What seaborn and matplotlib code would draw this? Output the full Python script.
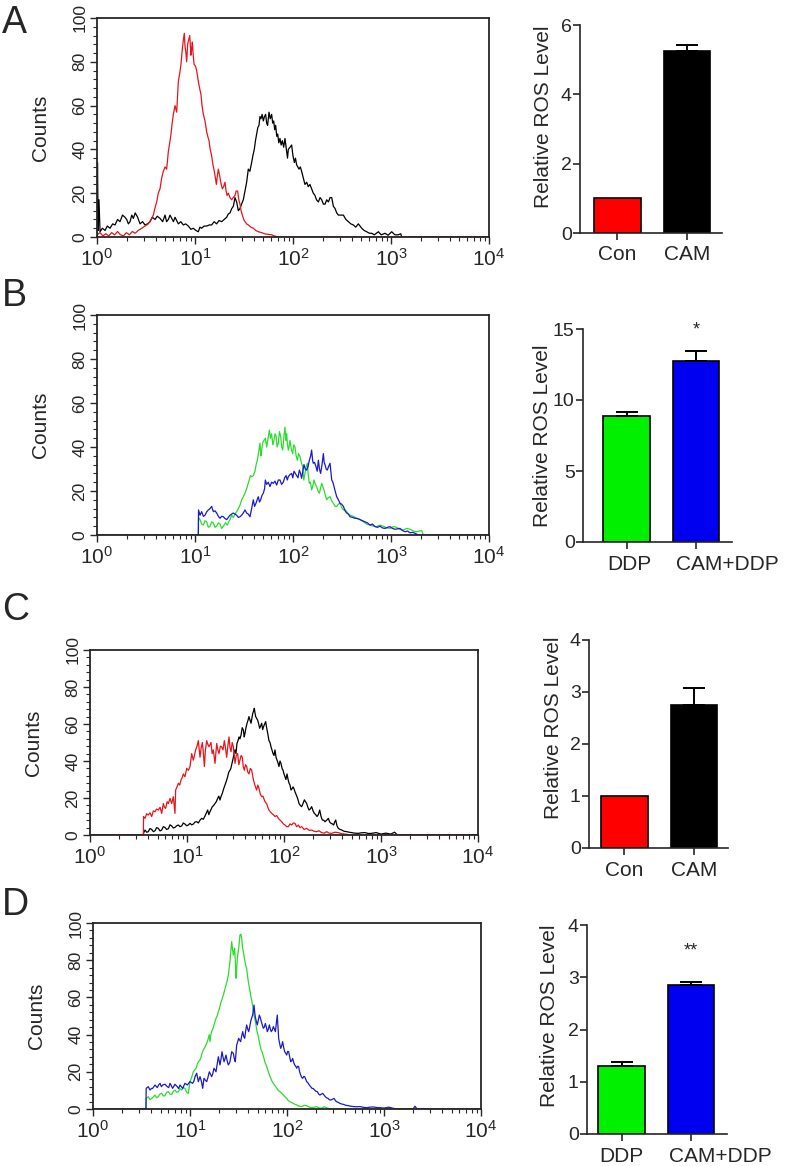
import numpy as np
import seaborn as sns
import matplotlib.pyplot as plt
import matplotlib.transforms as mtransforms
from matplotlib.ticker import MultipleLocator, LogLocator, NullFormatter

sns.set_style("ticks")
plt.rcParams["font.family"] = ["Liberation Sans", "DejaVu Sans"]
plt.rcParams["mathtext.default"] = "regular"

# ---- flow cytometry histograms: (log10 intensity, counts) ----
a_con = [(0.0, 1), (0.03, 2), (0.06, 0.5), (0.09, 1.5), (0.12, 0.5), (0.15, 2), (0.18, 1), (0.21, 2.5),
         (0.24, 1), (0.27, 0.5), (0.30, 2), (0.33, 1), (0.36, 2.5), (0.39, 1.7), (0.42, 3), (0.456, 4),
         (0.49, 5), (0.524, 6), (0.55, 8), (0.575, 10), (0.59, 13), (0.609, 16), (0.625, 20), (0.643, 22),
         (0.66, 27), (0.677, 30), (0.694, 32), (0.711, 31), (0.728, 39), (0.742, 43), (0.755, 47), (0.767, 52),
         (0.779, 56), (0.796, 60), (0.813, 57), (0.83, 71), (0.845, 75), (0.857, 79), (0.871, 86), (0.881, 90),
         (0.891, 93), (0.898, 87), (0.905, 85), (0.915, 80), (0.925, 88), (0.935, 90), (0.946, 92), (0.959, 83),
         (0.966, 86), (0.973, 89), (0.98, 84), (0.99, 79), (1.005, 78), (1.017, 76), (1.034, 71), (1.047, 68),
         (1.061, 65), (1.072, 60), (1.085, 56), (1.102, 53), (1.119, 48), (1.13, 46), (1.143, 44), (1.155, 40),
         (1.17, 37), (1.183, 33), (1.197, 30), (1.208, 27), (1.218, 24), (1.228, 28), (1.238, 31), (1.247, 29),
         (1.255, 27), (1.267, 24), (1.279, 22), (1.292, 23), (1.306, 25), (1.317, 21), (1.327, 19), (1.34, 20),
         (1.357, 18), (1.374, 17), (1.39, 18), (1.408, 19), (1.42, 21), (1.435, 21), (1.447, 17), (1.459, 15),
         (1.47, 12), (1.483, 10), (1.497, 8), (1.51, 7), (1.527, 6), (1.544, 5.5), (1.57, 4.5), (1.595, 4),
         (1.62, 3), (1.646, 2.4), (1.68, 2), (1.714, 1.4), (1.75, 1.2), (1.782, 1), (1.81, 0.5), (1.833, 0.2),
         (1.86, 0), (4.0, 0)]

a_cam = [(0.0, 0), (0.005, 34), (0.012, 3), (0.02, 17), (0.031, 2.4), (0.055, 4), (0.082, 3), (0.105, 5),
         (0.133, 4), (0.16, 6), (0.184, 5.5), (0.21, 8), (0.235, 7), (0.26, 10), (0.286, 9), (0.303, 8),
         (0.32, 6), (0.337, 7), (0.355, 10), (0.371, 8.5), (0.39, 11), (0.415, 9), (0.439, 6), (0.465, 7),
         (0.49, 5.5), (0.515, 6), (0.541, 7), (0.565, 9), (0.592, 8), (0.615, 9.5), (0.643, 8.5), (0.67, 7),
         (0.694, 10), (0.71, 7), (0.728, 8), (0.745, 10), (0.762, 8.5), (0.78, 7), (0.796, 9), (0.813, 7.5),
         (0.83, 6), (0.855, 7), (0.881, 5.5), (0.905, 6), (0.932, 5), (0.958, 3.5), (0.983, 4), (1.008, 3),
         (1.034, 2.4), (1.05, 4.5), (1.068, 4), (1.093, 5), (1.119, 5), (1.145, 5.5), (1.17, 5.5), (1.195, 7),
         (1.221, 6), (1.245, 7.5), (1.272, 7), (1.297, 8), (1.323, 9), (1.34, 10.5), (1.357, 11), (1.375, 13),
         (1.391, 14), (1.408, 18), (1.425, 16), (1.442, 12), (1.459, 13), (1.475, 15), (1.493, 17), (1.51, 21),
         (1.527, 25), (1.544, 31), (1.56, 30), (1.578, 34), (1.59, 37), (1.605, 40), (1.617, 44), (1.629, 47),
         (1.641, 50), (1.653, 51), (1.663, 55), (1.673, 54), (1.685, 56), (1.697, 53), (1.709, 55), (1.721, 56),
         (1.731, 52), (1.741, 51), (1.755, 57), (1.768, 54), (1.782, 56), (1.793, 52), (1.803, 53), (1.813, 49),
         (1.823, 51), (1.834, 46), (1.844, 47), (1.855, 43), (1.867, 45), (1.879, 42), (1.891, 44), (1.905, 41),
         (1.918, 45), (1.935, 39), (1.944, 36), (1.952, 40), (1.97, 41), (1.986, 42), (2.0, 37), (2.014, 34),
         (2.025, 36), (2.037, 33), (2.049, 32), (2.061, 31), (2.075, 32), (2.088, 30), (2.105, 27), (2.122, 24),
         (2.14, 25), (2.156, 23), (2.173, 24), (2.19, 22), (2.207, 20), (2.224, 19), (2.24, 17), (2.259, 16),
         (2.276, 18), (2.293, 17), (2.31, 15), (2.327, 15), (2.344, 17), (2.361, 16), (2.378, 18), (2.395, 18),
         (2.412, 14), (2.429, 13), (2.446, 11), (2.463, 10), (2.49, 10), (2.514, 10), (2.54, 8), (2.565, 7),
         (2.59, 6), (2.616, 5.5), (2.64, 4.5), (2.667, 6), (2.684, 5), (2.701, 4), (2.725, 3), (2.752, 2.4),
         (2.78, 1.7), (2.803, 1.7), (2.83, 1), (2.871, 2.4), (2.9, 1), (2.939, 1.7), (2.97, 0.8), (3.007, 2.4),
         (3.04, 1), (3.075, 1), (3.1, 1.5), (3.109, 0), (4.0, 0)]

b_ddp = [(0.0, 0), (1.034, 0), (1.036, 8), (1.051, 7), (1.068, 5), (1.085, 4.5), (1.102, 6.5), (1.119, 6),
         (1.136, 3.5), (1.153, 4), (1.17, 6), (1.187, 5.5), (1.204, 3.5), (1.221, 4), (1.238, 5.5), (1.255, 5),
         (1.272, 3), (1.289, 4), (1.31, 5.5), (1.33, 4.5), (1.344, 6), (1.357, 7), (1.374, 9), (1.391, 8),
         (1.408, 9.5), (1.425, 10.6), (1.442, 12), (1.459, 13.6), (1.476, 16), (1.493, 17.4), (1.51, 19),
         (1.527, 21), (1.54, 23), (1.554, 25), (1.566, 27), (1.578, 26.5), (1.595, 27), (1.612, 29), (1.624, 32),
         (1.636, 34), (1.65, 38), (1.663, 41.7), (1.672, 36), (1.68, 38.6), (1.692, 42), (1.704, 43), (1.718, 44),
         (1.731, 40), (1.745, 44), (1.759, 47.7), (1.77, 44), (1.782, 46), (1.794, 41), (1.806, 43), (1.817, 46),
         (1.827, 45), (1.838, 40), (1.85, 41.7), (1.862, 47), (1.874, 44.7), (1.885, 40), (1.895, 38.6),
         (1.908, 45), (1.918, 49), (1.928, 43), (1.935, 46), (1.944, 41), (1.952, 38.6), (1.96, 40), (1.969, 43),
         (1.983, 39), (1.997, 37), (2.008, 41), (2.02, 40), (2.032, 36), (2.044, 34), (2.058, 37), (2.071, 35.6),
         (2.085, 33), (2.099, 31), (2.11, 25), (2.122, 28), (2.134, 31), (2.146, 32.6), (2.156, 27), (2.167, 23.5),
         (2.178, 24), (2.19, 20.5), (2.2, 22), (2.214, 25), (2.228, 23), (2.241, 22), (2.255, 20), (2.269, 19),
         (2.28, 21), (2.293, 23.5), (2.305, 22), (2.316, 20.5), (2.33, 18), (2.344, 16), (2.36, 17), (2.378, 17.4),
         (2.395, 15.5), (2.412, 14.4), (2.43, 13), (2.446, 13), (2.463, 14), (2.48, 14.4), (2.497, 12.5),
         (2.514, 11.4), (2.531, 11.5), (2.548, 10.6), (2.565, 9.5), (2.582, 9), (2.616, 8.5), (2.65, 7.6),
         (2.684, 7), (2.718, 6), (2.752, 5), (2.786, 4.5), (2.82, 4), (2.854, 3.8), (2.888, 4.5), (2.922, 4),
         (2.956, 3.2), (2.99, 3), (3.024, 3.8), (3.058, 3.5), (3.092, 2.5), (3.126, 2.3), (3.16, 3), (3.194, 2.6),
         (3.228, 1.8), (3.262, 1.5), (3.29, 1.8), (3.313, 2), (3.33, 0), (4.0, 0)]

b_cam_ddp = [(0.0, 0), (1.034, 0), (1.036, 11.4), (1.051, 9), (1.068, 10.6), (1.085, 8.5), (1.102, 9),
             (1.119, 10.5), (1.136, 11.4), (1.153, 12), (1.17, 13), (1.187, 10.6), (1.204, 11), (1.221, 10),
             (1.238, 8.5), (1.255, 7.6), (1.272, 8.5), (1.289, 8.3), (1.306, 7.5), (1.323, 7), (1.34, 8),
             (1.357, 9), (1.374, 9.5), (1.391, 10), (1.408, 9.5), (1.425, 9), (1.442, 8), (1.459, 8.3), (1.476, 9),
             (1.493, 10), (1.51, 11.4), (1.527, 10), (1.544, 9.5), (1.561, 8.3), (1.578, 12), (1.595, 16),
             (1.608, 13), (1.622, 14.4), (1.634, 16), (1.646, 17.4), (1.658, 15), (1.67, 16), (1.683, 18),
             (1.697, 19), (1.71, 21), (1.718, 25), (1.731, 23), (1.748, 24), (1.765, 22), (1.782, 24),
             (1.799, 23.5), (1.816, 24.5), (1.833, 22.7), (1.85, 25), (1.867, 25), (1.884, 23), (1.901, 24),
             (1.915, 26), (1.929, 27), (1.942, 25), (1.952, 26.5), (1.97, 27.5), (1.986, 28), (1.998, 26),
             (2.01, 29), (2.024, 28), (2.037, 27), (2.051, 26), (2.065, 29.5), (2.077, 28), (2.088, 25.8),
             (2.1, 29), (2.112, 32), (2.125, 30), (2.139, 29.5), (2.153, 31), (2.167, 34), (2.18, 36),
             (2.19, 38.6), (2.2, 34), (2.207, 32.6), (2.22, 33), (2.235, 31), (2.247, 29), (2.259, 34), (2.27, 30),
             (2.282, 28), (2.296, 32), (2.31, 37), (2.318, 33), (2.327, 32), (2.338, 30), (2.35, 29.5), (2.362, 31),
             (2.378, 32.6), (2.395, 25), (2.407, 24), (2.418, 22), (2.43, 20), (2.446, 17.4), (2.463, 16),
             (2.48, 14.4), (2.497, 14), (2.514, 13), (2.531, 11), (2.548, 10), (2.565, 9.5), (2.582, 8.3),
             (2.607, 8), (2.633, 7.6), (2.658, 7.5), (2.684, 7), (2.71, 6.5), (2.735, 6), (2.76, 5.5),
             (2.786, 4.5), (2.81, 5), (2.837, 3.8), (2.862, 3.5), (2.888, 4), (2.914, 3.2), (2.939, 3),
             (2.965, 3.5), (2.99, 3.8), (3.015, 3), (3.041, 2.6), (3.066, 2.8), (3.092, 3), (3.118, 2),
             (3.143, 1.5), (3.17, 1.8), (3.194, 1), (3.22, 1.2), (3.245, 0.8), (3.279, 0), (4.0, 0)]

c_con = [(0.0, 0), (0.55, 0), (0.552, 10), (0.567, 9), (0.584, 11.5), (0.601, 10.8), (0.618, 12), (0.636, 10),
         (0.653, 13), (0.67, 12.6), (0.687, 14), (0.704, 13.5), (0.722, 15), (0.739, 11.7), (0.756, 17),
         (0.768, 15), (0.78, 14.4), (0.795, 18), (0.808, 17), (0.825, 19.8), (0.842, 17), (0.859, 20.7),
         (0.876, 11.7), (0.883, 24.3), (0.897, 26), (0.911, 28), (0.925, 27), (0.938, 29.7), (0.95, 31),
         (0.962, 33), (0.979, 31.5), (0.997, 36), (1.014, 35), (1.031, 37), (1.048, 44), (1.065, 40.5),
         (1.077, 43), (1.089, 46), (1.103, 48), (1.117, 51), (1.134, 42), (1.146, 47), (1.158, 50), (1.168, 45),
         (1.179, 37), (1.19, 46), (1.203, 51), (1.215, 49), (1.227, 47.7), (1.247, 50), (1.259, 44), (1.271, 46),
         (1.289, 38.7), (1.306, 49.5), (1.318, 46), (1.33, 44), (1.344, 48), (1.357, 47.7), (1.371, 46),
         (1.385, 51), (1.397, 47), (1.409, 42), (1.421, 48), (1.433, 53), (1.444, 47), (1.454, 45), (1.466, 50),
         (1.478, 47.7), (1.495, 38.7), (1.508, 43), (1.522, 44), (1.534, 38), (1.546, 40.5), (1.558, 43),
         (1.57, 42), (1.58, 37), (1.591, 35), (1.603, 38), (1.615, 37), (1.627, 34), (1.639, 33), (1.653, 36),
         (1.667, 35), (1.68, 31), (1.694, 28), (1.706, 26), (1.718, 24.3), (1.73, 27), (1.742, 25.2), (1.756, 22),
         (1.77, 20.7), (1.783, 21), (1.797, 19), (1.81, 17.5), (1.821, 17), (1.833, 15), (1.845, 13.5),
         (1.859, 12.5), (1.873, 11.7), (1.89, 11), (1.907, 10), (1.925, 10.5), (1.942, 9), (1.96, 8),
         (1.976, 7.2), (1.993, 6), (2.01, 5.4), (2.028, 4.5), (2.045, 4.5), (2.062, 6), (2.079, 5.4),
         (2.096, 6.5), (2.113, 6.3), (2.13, 4.5), (2.148, 5.4), (2.165, 4), (2.182, 4.5), (2.208, 3),
         (2.234, 3.6), (2.26, 2.5), (2.285, 2.7), (2.31, 2), (2.337, 1.8), (2.36, 2.3), (2.388, 1.3), (2.414, 1),
         (2.44, 1.8), (2.465, 1), (2.491, 0.9), (2.525, 1.5), (2.56, 1.3), (2.595, 0.7), (2.629, 0.5),
         (2.698, 0), (4.0, 0)]

c_cam = [(0.0, 0), (0.55, 0), (0.552, 1), (0.567, 2.7), (0.584, 1.5), (0.601, 1.8), (0.618, 3.5), (0.636, 3),
         (0.653, 1.8), (0.67, 2.3), (0.687, 4), (0.704, 3.6), (0.722, 2.2), (0.739, 2.7), (0.756, 4.5),
         (0.773, 4.1), (0.79, 3), (0.808, 3.4), (0.825, 5.5), (0.842, 4.9), (0.859, 3.8), (0.876, 4.1),
         (0.894, 5), (0.911, 5.4), (0.928, 4.5), (0.945, 4.9), (0.962, 6.5), (0.979, 5.9), (0.997, 5),
         (1.014, 5.4), (1.031, 6.3), (1.048, 5.5), (1.065, 5.9), (1.082, 7), (1.1, 7.2), (1.117, 6.5),
         (1.134, 8), (1.151, 9), (1.168, 8.5), (1.186, 10.3), (1.2, 12), (1.213, 13.5), (1.225, 11),
         (1.237, 12.6), (1.249, 14), (1.261, 15.3), (1.275, 16), (1.289, 17), (1.302, 18), (1.316, 19.8),
         (1.328, 21), (1.34, 18.9), (1.352, 21), (1.364, 22.5), (1.378, 25), (1.392, 27), (1.405, 29),
         (1.419, 31.5), (1.431, 34), (1.443, 35), (1.452, 36), (1.46, 37.8), (1.469, 40), (1.478, 42),
         (1.487, 45), (1.495, 46), (1.505, 44), (1.515, 49.5), (1.526, 51), (1.536, 53), (1.546, 52),
         (1.557, 54), (1.569, 58), (1.581, 56.8), (1.59, 53), (1.598, 55), (1.608, 58), (1.619, 60.4),
         (1.629, 62), (1.639, 64), (1.65, 62), (1.66, 60.4), (1.669, 63), (1.677, 65.6), (1.686, 67),
         (1.694, 68.5), (1.701, 66), (1.708, 64), (1.718, 63), (1.729, 62), (1.739, 60), (1.749, 57.7),
         (1.76, 59), (1.77, 60.4), (1.78, 57), (1.79, 58.6), (1.8, 60), (1.811, 61.3), (1.821, 58), (1.832, 55),
         (1.845, 51), (1.856, 50), (1.866, 47.7), (1.876, 46), (1.887, 44), (1.897, 43), (1.907, 46),
         (1.918, 42), (1.928, 40.5), (1.938, 39), (1.948, 37), (1.959, 40), (1.969, 38.7), (1.98, 36),
         (1.99, 35), (2.0, 33), (2.01, 31.5), (2.02, 30), (2.031, 33), (2.042, 30), (2.052, 28), (2.062, 27),
         (2.072, 24.3), (2.083, 25), (2.093, 26), (2.103, 25), (2.113, 23.4), (2.124, 22), (2.134, 20.7),
         (2.145, 19), (2.155, 17), (2.168, 16), (2.182, 15.3), (2.196, 17), (2.21, 19), (2.222, 18), (2.234, 17),
         (2.246, 15), (2.258, 13.5), (2.27, 14), (2.285, 15.3), (2.3, 13), (2.313, 11.7), (2.327, 11),
         (2.34, 10), (2.354, 11), (2.368, 13.5), (2.382, 10), (2.395, 8.1), (2.409, 8), (2.423, 7.2),
         (2.44, 8), (2.457, 9), (2.471, 7), (2.485, 6.3), (2.498, 6), (2.512, 5.4), (2.522, 7), (2.533, 8.1),
         (2.546, 5), (2.56, 3.6), (2.578, 3), (2.595, 2.7), (2.62, 2), (2.646, 1.8), (2.672, 1.5), (2.698, 1.3),
         (2.73, 1), (2.766, 0.9), (2.8, 1.2), (2.835, 1.3), (2.87, 0.8), (2.904, 0.9), (2.95, 1.3), (3.0, 0.5),
         (3.05, 1), (3.1, 0.5), (3.14, 1.5), (3.17, 0), (4.0, 0)]

d_ddp = [(0.0, 0), (0.546, 0), (0.548, 5.7), (0.57, 6.6), (0.588, 5), (0.605, 5.7), (0.622, 6.5), (0.639, 7.5),
         (0.656, 6), (0.673, 6.6), (0.69, 8), (0.708, 8.4), (0.725, 7), (0.742, 7.2), (0.76, 9), (0.777, 9.3),
         (0.794, 8), (0.811, 7.9), (0.828, 9.5), (0.845, 10.2), (0.862, 9), (0.88, 9.3), (0.897, 11),
         (0.914, 10.2), (0.931, 11.5), (0.948, 11.1), (0.965, 9), (0.983, 8.4), (0.992, 12), (1.0, 14.7),
         (1.017, 17), (1.034, 20), (1.048, 21), (1.062, 21.9), (1.074, 24), (1.086, 25.4), (1.098, 26),
         (1.11, 27.2), (1.124, 30), (1.137, 31.7), (1.151, 33), (1.165, 34.4), (1.177, 36), (1.189, 38),
         (1.198, 40), (1.206, 36.2), (1.215, 40), (1.223, 41.6), (1.235, 43), (1.247, 45.2), (1.258, 47),
         (1.268, 48.7), (1.28, 50), (1.292, 52.3), (1.304, 54), (1.316, 56.8), (1.33, 59), (1.344, 61.3),
         (1.358, 64), (1.371, 66.7), (1.383, 69), (1.395, 72), (1.404, 76), (1.412, 79.2), (1.421, 85),
         (1.43, 90), (1.438, 86), (1.447, 82.8), (1.454, 85), (1.46, 86.4), (1.467, 80), (1.474, 70.3),
         (1.481, 75), (1.488, 81), (1.495, 84), (1.502, 86.4), (1.509, 90), (1.515, 93.5), (1.524, 94),
         (1.533, 91.8), (1.541, 87), (1.55, 84.6), (1.558, 82), (1.567, 79.2), (1.575, 77), (1.584, 75.6),
         (1.592, 72), (1.601, 68.5), (1.61, 66), (1.619, 63), (1.629, 60), (1.639, 57.7), (1.65, 54),
         (1.66, 50.5), (1.67, 48), (1.68, 45.2), (1.69, 42), (1.701, 39.8), (1.711, 37), (1.722, 34.4),
         (1.732, 32), (1.742, 30.8), (1.752, 29), (1.763, 27.2), (1.773, 25), (1.784, 23.7), (1.796, 22),
         (1.808, 20), (1.82, 18), (1.832, 16.5), (1.845, 15), (1.859, 13.8), (1.876, 12.5), (1.893, 11.1),
         (1.91, 10), (1.928, 9.3), (1.945, 8.5), (1.962, 7.5), (1.98, 6.5), (1.997, 5.7), (2.014, 4.5),
         (2.031, 3.9), (2.048, 3.5), (2.065, 3), (2.083, 2.5), (2.1, 2.2), (2.125, 1.5), (2.151, 1.3),
         (2.177, 2), (2.203, 1.8), (2.23, 1), (2.254, 0.7), (2.28, 1), (2.306, 1.3), (2.33, 0.6), (2.357, 0.4),
         (2.383, 1.2), (2.409, 0.7), (2.443, 0), (4.0, 0)]

d_cam_ddp = [(0.0, 0), (0.546, 0), (0.548, 11.1), (0.57, 12), (0.588, 10.2), (0.602, 11), (0.615, 11.1),
             (0.639, 12.9), (0.663, 11.5), (0.677, 13), (0.691, 13.8), (0.705, 12), (0.718, 12.9), (0.742, 13.3),
             (0.766, 12), (0.78, 11.5), (0.794, 13.8), (0.808, 12.5), (0.821, 11.1), (0.845, 13.3), (0.869, 12),
             (0.883, 11), (0.897, 12.9), (0.91, 12), (0.924, 11.1), (0.948, 13.8), (0.973, 12.9), (1.0, 14.7),
             (1.027, 13.8), (1.04, 15), (1.052, 17.4), (1.069, 19.2), (1.086, 14.7), (1.103, 17.4), (1.117, 15),
             (1.131, 11.1), (1.144, 16.5), (1.158, 15.5), (1.172, 14.7), (1.185, 17), (1.199, 20), (1.223, 17.4),
             (1.235, 19), (1.247, 21.9), (1.258, 21), (1.268, 20), (1.28, 24), (1.292, 28.1), (1.3, 26),
             (1.309, 23.7), (1.32, 27), (1.33, 30.8), (1.34, 28), (1.351, 25.4), (1.361, 27), (1.371, 29),
             (1.383, 26), (1.395, 23.7), (1.404, 24.5), (1.412, 25.4), (1.421, 28), (1.43, 30.8), (1.447, 29.9),
             (1.457, 27), (1.467, 25.4), (1.474, 30), (1.481, 34.4), (1.491, 36), (1.502, 38), (1.512, 37),
             (1.522, 36.2), (1.532, 39), (1.543, 41.6), (1.554, 39), (1.564, 38), (1.574, 42), (1.584, 45.2),
             (1.595, 43), (1.605, 41.6), (1.615, 44), (1.625, 47), (1.636, 49), (1.646, 50.5), (1.653, 53),
             (1.66, 55.9), (1.667, 52), (1.673, 49.6), (1.684, 47), (1.694, 45.2), (1.705, 48), (1.715, 50.5),
             (1.725, 49), (1.735, 47), (1.746, 45), (1.756, 43.4), (1.766, 44), (1.777, 46), (1.787, 44),
             (1.797, 41.6), (1.808, 43), (1.818, 45.2), (1.828, 43), (1.838, 41.6), (1.849, 42.5), (1.859, 44.3),
             (1.87, 43), (1.88, 41.6), (1.89, 46), (1.9, 50.5), (1.907, 44), (1.914, 38), (1.925, 35),
             (1.935, 32.6), (1.945, 34), (1.955, 36.2), (1.966, 33), (1.976, 30.8), (1.987, 30), (1.997, 29),
             (2.007, 31), (2.017, 30.8), (2.028, 28), (2.038, 25.4), (2.048, 26), (2.058, 27.2), (2.069, 25),
             (2.079, 23.7), (2.09, 23), (2.1, 21.9), (2.11, 23), (2.12, 22.8), (2.13, 20), (2.141, 18.3),
             (2.151, 17), (2.162, 16.5), (2.172, 17.5), (2.182, 17.4), (2.193, 16), (2.203, 14.7), (2.217, 14),
             (2.23, 12.9), (2.244, 12), (2.258, 11.1), (2.271, 11), (2.285, 10.2), (2.299, 9.5), (2.313, 9.3),
             (2.327, 8), (2.34, 7.5), (2.354, 8), (2.368, 8.4), (2.382, 7.5), (2.395, 6.6), (2.409, 6),
             (2.423, 5.7), (2.436, 5), (2.45, 4.8), (2.468, 5.2), (2.485, 5.7), (2.5, 4.5), (2.512, 3.9),
             (2.53, 3.5), (2.546, 3), (2.563, 2.7), (2.581, 2.5), (2.606, 2), (2.632, 1.8), (2.658, 1.5),
             (2.684, 1.3), (2.72, 1.2), (2.753, 1.3), (2.787, 0.9), (2.821, 0.7), (2.855, 1), (2.89, 1.1),
             (2.925, 0.8), (2.959, 0.7), (3.0, 0.5), (3.05, 1), (3.1, 0.3), (3.15, 0), (3.3, 0), (3.32, 1.5),
             (3.34, 0), (4.0, 0)]

# ---- bar charts: relative ROS level (mean, upper error) ----
groups_con = ["Con", "CAM"]
groups_ddp = ["DDP", "CAM+DDP"]
a_means, a_err = [1.0, 5.25], [0.0, 0.18]
b_means, b_err = [8.9, 12.75], [0.27, 0.7]
c_means, c_err = [1.0, 2.75], [0.0, 0.33]
d_means, d_err = [1.3, 2.85], [0.07, 0.06]

RED, BLACK, GREEN, BLUE = "#ff0000", "#000000", "#00f000", "#0000f0"
LINE_RED, LINE_GREEN, LINE_BLUE = "#e8141b", "#2bdc2b", "#1a1acc"

W, H = 787, 1166
fig = plt.figure(figsize=(W / 100, H / 100), dpi=100)


def px_axes(left, top, right, bottom):
    return fig.add_axes([left / W, 1 - bottom / H, (right - left) / W, (bottom - top) / H])


def draw_hist(ax, curves):
    for pts, color in curves:
        logs, counts = zip(*pts)
        sns.lineplot(x=10 ** np.array(logs), y=counts, color=color, linewidth=0.9,
                     estimator=None, sort=False, ax=ax)
    ax.set_xscale("log")
    ax.set_xlim(1, 1e4)
    ax.set_ylim(0, 100)
    ax.set_yticks([0, 20, 40, 60, 80, 100])
    ax.yaxis.set_minor_locator(MultipleLocator(4))
    ax.xaxis.set_major_locator(LogLocator(base=10, numticks=10))
    ax.xaxis.set_minor_locator(LogLocator(base=10, subs=np.arange(2, 10), numticks=10))
    ax.xaxis.set_minor_formatter(NullFormatter())
    for s in ax.spines.values():
        s.set_linewidth(1.3)
    ax.tick_params(axis="both", which="major", direction="out", length=5, width=1.0)
    ax.tick_params(axis="both", which="minor", direction="out", length=3, width=0.8)
    ax.tick_params(axis="x", labelsize=15, pad=3)
    ax.tick_params(axis="y", labelsize=12.5, labelrotation=90, pad=2)
    for lab in ax.get_yticklabels():
        lab.set_va("center")
    ax.set_xlabel("")
    ax.set_ylabel("Counts", fontsize=15)
    ax.yaxis.set_label_coords(-0.12, 0.5)


def draw_bars(ax, groups, means, errs, colors, ymax, step, label_xy, star=None):
    sns.barplot(x=groups, y=means, hue=groups, palette=colors, legend=False, saturation=1,
                edgecolor="black", linewidth=1.2, width=0.67, errorbar=None, ax=ax)
    xs = [i for i, e in enumerate(errs) if e > 0]
    ax.errorbar(xs, [means[i] for i in xs], yerr=[[0] * len(xs), [errs[i] for i in xs]],
                fmt="none", ecolor="black", elinewidth=1.4, capsize=8, capthick=1.4, zorder=1)
    ax.set_ylim(0, ymax)
    ax.set_yticks(np.arange(0, ymax + 0.01, step))
    sns.despine(ax=ax)
    for s in ("left", "bottom"):
        ax.spines[s].set_linewidth(1.2)
    ax.tick_params(axis="both", direction="out", length=5, width=1.2)
    ax.tick_params(axis="y", labelsize=14, pad=1)
    ax.tick_params(axis="x", labelsize=15, pad=4)
    ax.set_ylabel("Relative ROS Level", fontsize=15)
    ax.yaxis.set_label_coords(*label_xy)
    if star is not None:
        ax.text(1, star[1], star[0], ha="center", va="center", fontsize=13)


def shift_label(ax, idx, dx_px):
    # the long "CAM+DDP" label sits right of its tick in the original
    lab = ax.get_xticklabels()[idx]
    lab.set_transform(lab.get_transform() + mtransforms.ScaledTranslation(dx_px / 100, 0, fig.dpi_scale_trans))


# panel A
ax = px_axes(97, 18, 489, 237)
draw_hist(ax, [(a_cam, BLACK), (a_con, LINE_RED)])
ax = px_axes(580, 25, 722, 233)
draw_bars(ax, groups_con, a_means, a_err, [RED, BLACK], 6, 2, (-0.19, 0.56))
ax.set_xlim(-0.53, 1.5)

# panel B
ax = px_axes(97, 315, 489, 535)
draw_hist(ax, [(b_ddp, LINE_GREEN), (b_cam_ddp, LINE_BLUE)])
ax = px_axes(583, 329, 732, 542)
draw_bars(ax, groups_ddp, b_means, b_err, [GREEN, BLUE], 15, 5, (-0.205, 0.5), star=("*", 14.9))
ax.set_xlim(-0.63, 1.52)
shift_label(ax, 0, 3)
shift_label(ax, 1, 31)

# panel C
ax = px_axes(90, 650, 478, 835)
draw_hist(ax, [(c_cam, BLACK), (c_con, LINE_RED)])
ax = px_axes(589, 640, 728, 848)
draw_bars(ax, groups_con, c_means, c_err, [RED, BLACK], 4, 1, (-0.19, 0.58))
ax.set_xlim(-0.51, 1.49)

# panel D
ax = px_axes(93, 923, 481, 1109)
draw_hist(ax, [(d_ddp, LINE_GREEN), (d_cam_ddp, LINE_BLUE)])
ax = px_axes(587, 925, 727, 1134)
draw_bars(ax, groups_ddp, d_means, d_err, [GREEN, BLUE], 4, 1, (-0.2, 0.567), star=("**", 3.5))
ax.set_xlim(-0.5, 1.52)
shift_label(ax, 0, 0)
shift_label(ax, 1, 29)

for letter, base in [("A", 33), ("B", 306), ("C", 620), ("D", 915)]:
    fig.text(2 / W, 1 - base / H, letter, fontsize=27, ha="left", va="baseline")

fig.savefig("out.png", dpi=100)
